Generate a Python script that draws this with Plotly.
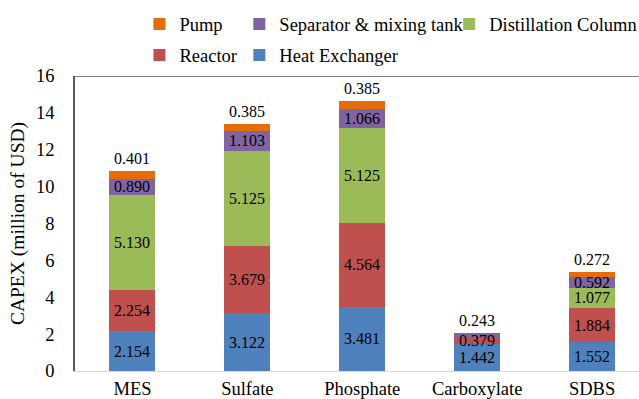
import plotly.graph_objects as go

categories = ["MES", "Sulfate", "Phosphate", "Carboxylate", "SDBS"]
heat_exchanger = [2.154, 3.122, 3.481, 1.442, 1.552]
reactor = [2.254, 3.679, 4.564, 0.379, 1.884]
distillation = [5.130, 5.125, 5.125, 0.0, 1.077]
separator = [0.890, 1.103, 1.066, 0.243, 0.592]
pump = [0.401, 0.385, 0.385, 0.0, 0.272]

series = [
    ("Heat Exchanger", heat_exchanger, "#4F81BD"),
    ("Reactor", reactor, "#C0504D"),
    ("Distillation Column", distillation, "#9BBB59"),
    ("Separator & mixing tank", separator, "#8064A2"),
    ("Pump", pump, "#E46C0A"),
]

FONT = "Liberation Serif"

# plot-area geometry in pixels
W, H = 639, 399
L, T, B = 74.5, 75.5, 28
plot_h = H - T - B

# legend slots: (legend id, text-left px, row-center px)
legend_slots = {
    "Pump": ("legend", 179, 24),
    "Separator & mixing tank": ("legend2", 279, 24),
    "Distillation Column": ("legend3", 489, 24),
    "Reactor": ("legend4", 179, 55),
    "Heat Exchanger": ("legend5", 279, 55),
}

fig = go.Figure()
for name, vals, color in series:
    fig.add_trace(go.Bar(
        x=categories, y=vals, name=name,
        marker=dict(color=color, line=dict(width=0)),
        width=0.4,
        legend=legend_slots[name][0],
        showlegend=True,
    ))

# value labels: inside each segment, topmost small segment goes above the stack
annotations = []
for i, cat in enumerate(categories):
    base = 0.0
    nonzero = [k for k, (_, v, _) in enumerate(series) if v[i] > 0]
    top_k = nonzero[-1]
    for k, (name, vals, color) in enumerate(series):
        v = vals[i]
        if v <= 0:
            continue
        if k == top_k and v < 0.5:
            annotations.append(dict(
                x=cat, y=base + v, text=f"{v:.3f}", showarrow=False,
                yanchor="bottom", yshift=2, xref="x", yref="y",
                font=dict(family=FONT, size=16, color="black"),
            ))
        else:
            annotations.append(dict(
                x=cat, y=base + v / 2, text=f"{v:.3f}", showarrow=False,
                yanchor="middle", xref="x", yref="y",
                font=dict(family=FONT, size=16, color="black"),
            ))
        base += v

layout_legends = {}
for name, (lid, tx, ty) in legend_slots.items():
    layout_legends[lid] = dict(
        x=(tx - 40 - L) / (W - L),
        y=1 + (T - ty) / plot_h,
        xanchor="left", yanchor="middle",
        xref="paper", yref="paper",
        orientation="h",
        font=dict(family=FONT, size=18.5, color="black"),
        bgcolor="rgba(0,0,0,0)",
        itemwidth=30,
        visible=True,
    )

fig.update_layout(
    width=W, height=H,
    barmode="stack",
    showlegend=True,
    plot_bgcolor="white", paper_bgcolor="white",
    margin=dict(l=L, r=0, t=T, b=B, pad=0, autoexpand=False),
    font=dict(family=FONT, size=18, color="black"),
    annotations=annotations,
    **layout_legends,
)

fig.update_xaxes(
    range=[-0.5, -0.5 + (W - L) / 115.0],
    showline=True, linecolor="#D9D9D9", linewidth=1,
    ticks="", showgrid=False, zeroline=False,
    automargin=False,
    ticklabelstandoff=1,
    tickfont=dict(family=FONT, size=18.5, color="black"),
)
fig.update_yaxes(
    range=[0, 16], dtick=2,
    showline=True, linecolor="#595959", linewidth=1.5,
    ticks="", showgrid=False, zeroline=False,
    automargin=False,
    ticklabelstandoff=15,
    tickfont=dict(family=FONT, size=18.5, color="black"),
    title=dict(text="CAPEX (million of USD)", font=dict(family=FONT, size=19.5, color="black"), standoff=6),
)
# upper frame line of the plot area
fig.add_shape(type="line", xref="paper", yref="y", x0=0, x1=1, y0=16, y1=16,
              line=dict(color="#595959", width=1.5))

fig.write_html("out.html")
